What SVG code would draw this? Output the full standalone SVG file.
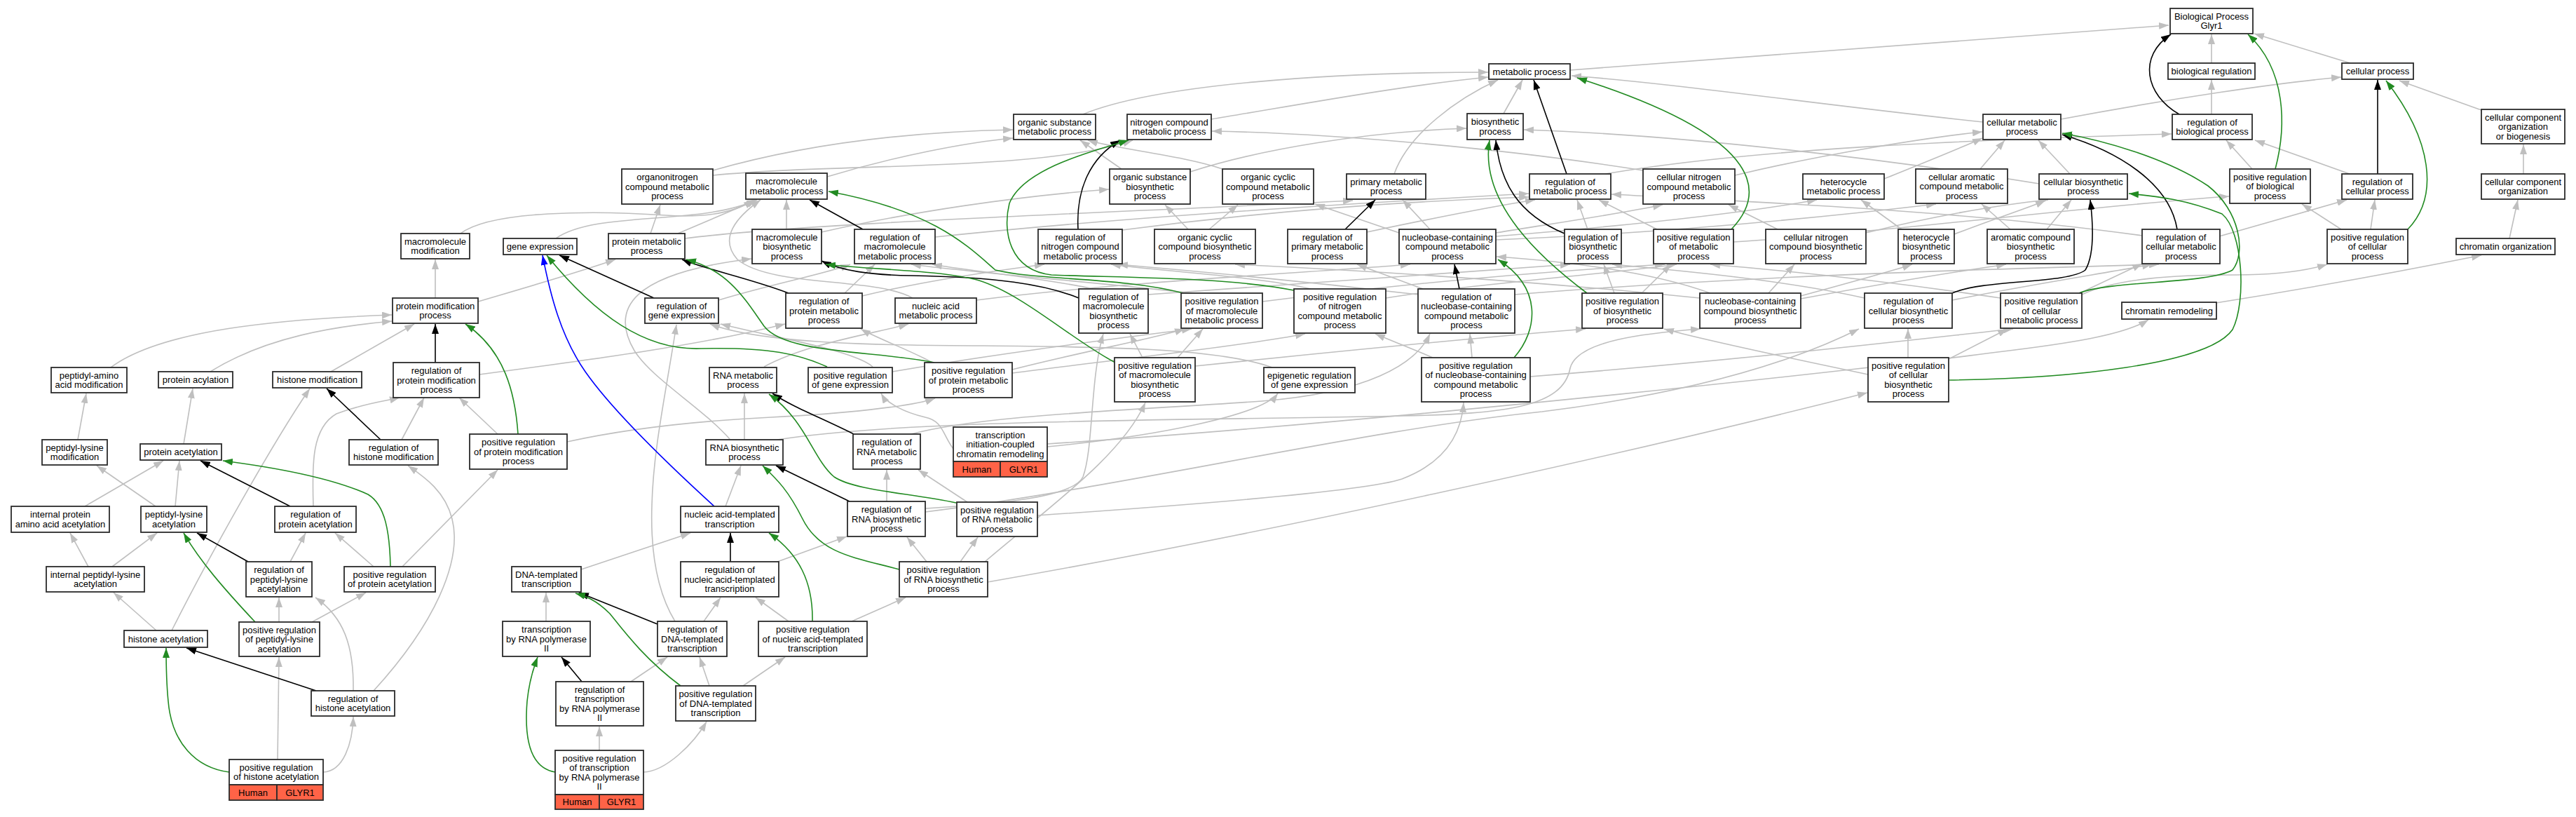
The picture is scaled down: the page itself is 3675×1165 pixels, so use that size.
<svg xmlns="http://www.w3.org/2000/svg" width="3675" height="1165" viewBox="0 0 3675 1165">
<style>
.n rect{fill:#fff;stroke:#2b2b2b;stroke-width:1.8}
.n rect.red{fill:#ff6347}
.n text{font-family:"Liberation Sans",Arial,sans-serif;font-size:13px;text-anchor:middle;fill:#000}
#edges path{fill:none;stroke-width:1.6}
#edges .g{stroke:#bfbfbf;marker-end:url(#ag)}
#edges .k{stroke:#000;marker-end:url(#ak)}
#edges .v{stroke:#228b22;marker-end:url(#av)}
#edges .b{stroke:#0000ff;marker-end:url(#ab)}
</style>
<defs>
<marker id="ag" viewBox="0 0 14 10" refX="14" refY="5" markerWidth="14" markerHeight="10" markerUnits="userSpaceOnUse" orient="auto"><path d="M0,0 L14,5 L0,10 z" fill="#bfbfbf"/></marker>
<marker id="ak" viewBox="0 0 14 10" refX="14" refY="5" markerWidth="14" markerHeight="10" markerUnits="userSpaceOnUse" orient="auto"><path d="M0,0 L14,5 L0,10 z" fill="#000"/></marker>
<marker id="av" viewBox="0 0 14 10" refX="14" refY="5" markerWidth="14" markerHeight="10" markerUnits="userSpaceOnUse" orient="auto"><path d="M0,0 L14,5 L0,10 z" fill="#228b22"/></marker>
<marker id="ab" viewBox="0 0 14 10" refX="14" refY="5" markerWidth="14" markerHeight="10" markerUnits="userSpaceOnUse" orient="auto"><path d="M0,0 L14,5 L0,10 z" fill="#0000ff"/></marker>
</defs>
<rect x="0" y="0" width="3675" height="1165" fill="#fff"/>
<g id="edges">
<path class="g" d="M2240,100 C2600,75 2900,48 3094,36"/>
<path class="g" d="M3155,90 L3155,49"/>
<path class="g" d="M3353,90 L3216,48"/>
<path class="g" d="M3155,163 L3155,114"/>
<path class="g" d="M3540,157 L3423,115"/>
<path class="g" d="M2940,170 C3100,140 3250,118 3340,110"/>
<path class="g" d="M2829,174 C2600,150 2400,120 2242,108"/>
<path class="g" d="M1545,163 C1650,120 1900,103 2123,103"/>
<path class="g" d="M1728,170 C1850,150 2000,122 2123,110"/>
<path class="g" d="M1989,248 C2010,190 2080,140 2137,114"/>
<path class="g" d="M2145,162 L2172,114"/>
<path class="g" d="M1698,245 C1800,212 1950,188 2092,183"/>
<path class="g" d="M2909,262 C2700,228 2400,192 2174,185"/>
<path class="g" d="M1600,241 L1541,200"/>
<path class="g" d="M1744,241 C1690,222 1590,212 1552,200"/>
<path class="g" d="M1017,243 C1150,205 1300,188 1445,185"/>
<path class="g" d="M1180,252 C1280,222 1380,203 1445,197"/>
<path class="g" d="M1017,250 C1200,232 1480,245 1616,200"/>
<path class="g" d="M2344,243 C2150,212 1900,190 1729,187"/>
<path class="g" d="M1725,327 L1766,292"/>
<path class="g" d="M1695,327 L1662,292"/>
<path class="g" d="M2040,327 L2001,285"/>
<path class="g" d="M977,340 C1150,318 1550,305 1930,286"/>
<path class="g" d="M1172,331 C1300,302 1450,280 1582,270"/>
<path class="g" d="M1996,332 L1876,291"/>
<path class="g" d="M2134,332 C2220,318 2310,305 2372,292"/>
<path class="g" d="M2134,337 C2320,322 2480,305 2592,285"/>
<path class="g" d="M2134,342 C2380,332 2600,310 2762,291"/>
<path class="g" d="M2475,250 C2600,220 2750,196 2828,188"/>
<path class="g" d="M2688,255 C2750,230 2800,210 2828,197"/>
<path class="g" d="M2825,241 L2860,200"/>
<path class="g" d="M2953,248 L2908,200"/>
<path class="g" d="M2290,248 C2500,212 2800,200 3098,191"/>
<path class="g" d="M3213,241 L3176,200"/>
<path class="g" d="M3352,248 L3217,200"/>
<path class="g" d="M3600,248 L3600,206"/>
<path class="g" d="M657,333 C700,300 850,300 950,307 C1010,311 1050,302 1075,285"/>
<path class="g" d="M793,340 C850,300 1000,322 1079,285"/>
<path class="g" d="M928,333 L942,292"/>
<path class="g" d="M967,333 L1080,285"/>
<path class="g" d="M1122,326 L1122,285"/>
<path class="g" d="M1334,338 C1600,310 1900,292 2181,276"/>
<path class="g" d="M1601,328 C1800,302 2000,287 2181,281"/>
<path class="g" d="M1950,331 C2050,310 2130,294 2190,285"/>
<path class="g" d="M2265,327 L2250,285"/>
<path class="g" d="M2364,327 L2281,285"/>
<path class="g" d="M2473,345 C2700,330 3000,292 3180,280"/>
<path class="g" d="M2536,327 L2466,292"/>
<path class="g" d="M2662,332 C2750,310 2850,292 2922,285"/>
<path class="g" d="M2713,327 L2655,285"/>
<path class="g" d="M2788,334 C2850,310 2895,296 2918,286"/>
<path class="g" d="M2868,327 L2827,291"/>
<path class="g" d="M2920,327 L2955,285"/>
<path class="g" d="M3056,336 C2800,300 2500,288 2299,277"/>
<path class="g" d="M3166,337 L3348,285"/>
<path class="g" d="M3382,327 L3388,285"/>
<path class="g" d="M3340,327 L3284,291"/>
<path class="g" d="M3580,340 L3592,285"/>
<path class="g" d="M621,425 L621,370"/>
<path class="g" d="M682,430 C750,410 820,390 878,370"/>
<path class="g" d="M1025,428 C1100,405 1180,390 1213,377"/>
<path class="g" d="M1205,418 L1248,377"/>
<path class="g" d="M1230,422 C1320,400 1420,386 1490,377"/>
<path class="g" d="M1393,428 C1600,402 1850,390 2012,377"/>
<path class="g" d="M1302,425 C1250,395 1100,410 1052,370 C1025,340 1050,310 1085,285"/>
<path class="g" d="M1560,412 C1480,395 1380,386 1330,377"/>
<path class="g" d="M1638,420 C1900,400 2100,386 2240,377"/>
<path class="g" d="M1700,418 C1560,402 1400,390 1300,377"/>
<path class="g" d="M1801,430 C2000,405 2200,387 2375,377"/>
<path class="g" d="M1870,412 C1800,395 1650,386 1585,377"/>
<path class="g" d="M1977,425 C2100,405 2300,390 2392,377"/>
<path class="g" d="M2023,420 C1850,400 1700,386 1595,377"/>
<path class="g" d="M2030,412 L1936,377"/>
<path class="g" d="M2161,420 C2500,392 2900,382 3080,377"/>
<path class="g" d="M2303,418 L2288,377"/>
<path class="g" d="M2342,418 L2384,377"/>
<path class="g" d="M2440,418 C2350,385 2220,372 2135,366"/>
<path class="g" d="M2523,418 L2560,377"/>
<path class="g" d="M2569,422 C2650,400 2700,386 2728,377"/>
<path class="g" d="M2569,426 C2700,402 2800,386 2862,377"/>
<path class="g" d="M2425,425 C2200,402 1950,386 1762,377"/>
<path class="g" d="M2660,425 C2550,400 2400,386 2300,377"/>
<path class="g" d="M2785,428 C2900,405 3000,390 3070,377"/>
<path class="g" d="M2967,418 L3056,376"/>
<path class="g" d="M2854,425 C2700,402 2550,386 2440,377"/>
<path class="g" d="M2970,420 C3020,397 3100,392 3190,392 C3250,392 3290,386 3320,377"/>
<path class="g" d="M3161,432 C3300,410 3450,382 3540,364"/>
<path class="g" d="M158,524 C230,470 400,455 559,449"/>
<path class="g" d="M300,530 C380,480 480,465 559,458"/>
<path class="g" d="M472,530 L591,462"/>
<path class="g" d="M684,534 C850,512 1000,492 1120,462"/>
<path class="g" d="M1090,523 C1150,490 1250,475 1296,462"/>
<path class="g" d="M1245,523 C1220,500 1100,480 1028,462"/>
<path class="g" d="M1273,530 C1450,500 1600,482 1700,469"/>
<path class="g" d="M1330,517 C1300,500 1250,482 1228,469"/>
<path class="g" d="M1444,527 C1550,500 1650,482 1690,469"/>
<path class="g" d="M1444,532 C1600,512 1780,492 1862,476"/>
<path class="g" d="M1630,510 L1612,476"/>
<path class="g" d="M1680,510 L1716,469"/>
<path class="g" d="M1705,522 C1900,502 2100,482 2262,469"/>
<path class="g" d="M1815,524 C1720,490 1500,495 1300,492 C1150,490 1060,480 1013,462"/>
<path class="g" d="M2100,510 L2097,476"/>
<path class="g" d="M2044,510 C2010,495 1985,486 1962,476"/>
<path class="g" d="M2183,537 C2500,512 2750,482 2872,469"/>
<path class="g" d="M2722,510 L2722,469"/>
<path class="g" d="M2665,534 C2550,510 2420,482 2374,469"/>
<path class="g" d="M2780,512 L2864,469"/>
<path class="g" d="M111,627 L123,561"/>
<path class="g" d="M262,633 L275,554"/>
<path class="g" d="M573,627 L605,567"/>
<path class="g" d="M710,619 L655,567"/>
<path class="g" d="M809,630 C900,610 1000,600 1100,595 C1200,590 1300,580 1334,568"/>
<path class="g" d="M1062,627 L1062,561"/>
<path class="g" d="M1041,626 C1000,580 930,540 905,500 C870,440 900,390 1072,369"/>
<path class="g" d="M1109,627 C1300,597 1700,600 2000,593 C2150,590 2230,580 2240,525 C2250,485 2350,475 2426,469"/>
<path class="g" d="M1300,619 C1400,592 1600,586 1800,572 C1950,560 2020,520 2040,476"/>
<path class="g" d="M1494,633 C2000,600 2700,522 2850,502 C2950,490 3030,478 3065,456"/>
<path class="g" d="M1494,637 C1650,622 1800,592 1823,561"/>
<path class="g" d="M1360,640 C1345,620 1345,600 1320,595 C1290,588 1265,575 1257,561"/>
<path class="g" d="M121,722 L233,657"/>
<path class="g" d="M222,722 L138,664"/>
<path class="g" d="M250,722 L256,657"/>
<path class="g" d="M447,722 C445,660 445,610 480,590 C520,575 550,572 570,567"/>
<path class="g" d="M1035,722 L1057,664"/>
<path class="g" d="M1265,715 L1265,670"/>
<path class="g" d="M1320,725 C1400,720 1530,712 1545,680 C1560,640 1555,540 1574,476"/>
<path class="g" d="M1320,730 C1600,695 1950,612 2200,587 C2400,562 2550,520 2652,469"/>
<path class="g" d="M1380,716 L1310,670"/>
<path class="g" d="M1480,735 C1700,720 1950,700 2000,683 C2060,660 2085,620 2088,574"/>
<path class="g" d="M126,808 L100,760"/>
<path class="g" d="M160,808 L224,760"/>
<path class="g" d="M414,801 L436,760"/>
<path class="g" d="M533,808 L478,760"/>
<path class="g" d="M574,808 L710,670"/>
<path class="g" d="M829,812 L985,760"/>
<path class="g" d="M1109,801 L1208,765"/>
<path class="g" d="M1322,801 L1294,766"/>
<path class="g" d="M1370,801 L1395,766"/>
<path class="g" d="M1405,801 C1500,720 1600,650 1634,574"/>
<path class="g" d="M1409,830 C1800,762 2300,652 2664,560"/>
<path class="g" d="M245,899 C300,790 390,630 442,554"/>
<path class="g" d="M223,899 L162,845"/>
<path class="g" d="M398,887 L398,852"/>
<path class="g" d="M445,887 L522,845"/>
<path class="g" d="M779,886 L779,845"/>
<path class="g" d="M1004,886 L1028,852"/>
<path class="g" d="M963,886 C935,840 928,780 930,720 C932,640 950,560 965,463"/>
<path class="g" d="M1125,886 L1078,852"/>
<path class="g" d="M1215,886 L1292,852"/>
<path class="g" d="M504,985 C505,920 490,880 450,852"/>
<path class="g" d="M533,985 C620,890 660,800 645,740 C635,700 605,680 582,664"/>
<path class="g" d="M900,972 L952,937"/>
<path class="g" d="M1012,978 L998,937"/>
<path class="g" d="M1060,978 L1120,937"/>
<path class="g" d="M396,1083 L398,937"/>
<path class="g" d="M461,1101 C490,1100 503,1060 504,1022"/>
<path class="g" d="M855,1070 L855,1036"/>
<path class="g" d="M918,1101 C950,1100 990,1060 1008,1029"/>
<path class="k" d="M3109,163 C3060,135 3050,80 3097,49"/>
<path class="k" d="M2235,248 L2188,114"/>
<path class="k" d="M2232,333 C2165,305 2140,260 2134,200"/>
<path class="k" d="M1538,327 C1535,270 1555,225 1598,200"/>
<path class="k" d="M1919,327 L1962,285"/>
<path class="k" d="M3392,248 L3392,114"/>
<path class="k" d="M1231,327 L1155,285"/>
<path class="k" d="M3106,327 C3095,260 3020,215 2942,192"/>
<path class="k" d="M933,425 L798,364"/>
<path class="k" d="M1125,418 C1070,397 1010,385 973,370"/>
<path class="k" d="M1539,425 C1490,405 1420,395 1300,393 C1240,392 1200,386 1172,372"/>
<path class="k" d="M2082,412 L2075,377"/>
<path class="k" d="M2785,418 C2830,398 2950,405 2975,385 C2990,360 2985,310 2982,285"/>
<path class="k" d="M621,517 L621,462"/>
<path class="k" d="M543,627 L466,554"/>
<path class="k" d="M1218,619 C1170,595 1130,580 1102,561"/>
<path class="k" d="M414,722 L286,657"/>
<path class="k" d="M1212,715 L1107,664"/>
<path class="k" d="M354,801 L281,760"/>
<path class="k" d="M1042,801 L1042,760"/>
<path class="k" d="M938,890 L826,845"/>
<path class="k" d="M451,985 L266,924"/>
<path class="k" d="M830,972 L801,937"/>
<path class="v" d="M3246,241 C3262,180 3262,100 3207,49"/>
<path class="v" d="M2470,327 C2515,280 2530,200 2250,111"/>
<path class="v" d="M2264,418 C2200,370 2110,290 2125,200"/>
<path class="v" d="M1846,414 C1750,395 1600,396 1500,392 C1440,385 1430,330 1440,290 C1460,240 1560,215 1610,200"/>
<path class="v" d="M3435,327 C3480,280 3470,200 3404,115"/>
<path class="v" d="M1688,418 C1600,395 1480,400 1420,385 C1380,350 1330,300 1182,273"/>
<path class="v" d="M2966,418 C3010,400 3150,405 3185,385 C3205,360 3195,300 3150,265 C3090,225 3000,200 2942,190"/>
<path class="v" d="M2780,542 C2950,540 3150,520 3185,470 C3205,430 3200,330 3170,305 C3120,285 3080,280 3037,276"/>
<path class="v" d="M1180,523 C1140,505 1100,495 1000,497 C920,500 850,450 780,364"/>
<path class="v" d="M1333,517 C1250,500 1120,505 1090,465 C1065,430 1040,385 979,370"/>
<path class="v" d="M1591,517 C1530,485 1460,420 1397,400 C1340,385 1250,385 1178,377"/>
<path class="v" d="M2160,510 C2195,470 2200,410 2137,370"/>
<path class="v" d="M739,619 C735,560 720,500 664,462"/>
<path class="v" d="M1364,717 C1300,703 1220,700 1190,680 C1160,655 1150,600 1097,562"/>
<path class="v" d="M557,808 C556,760 550,720 525,705 C470,680 380,665 318,657"/>
<path class="v" d="M1283,812 C1220,795 1170,790 1145,740 C1125,700 1110,685 1088,664"/>
<path class="v" d="M364,887 C320,840 285,800 262,760"/>
<path class="v" d="M1159,886 C1160,830 1140,790 1097,760"/>
<path class="v" d="M971,978 C920,940 890,900 870,875 C850,855 835,850 821,846"/>
<path class="v" d="M327,1101 C280,1095 245,1060 240,1000 C237,970 237,945 237,924"/>
<path class="v" d="M792,1101 C755,1095 748,1050 752,1000 C755,970 762,950 767,937"/>
<path class="b" d="M1019,722 C940,650 870,580 835,530 C800,480 785,420 774,364"/>
</g>
<g id="nodes">
<g id="n-bp" class="n"><rect x="3096" y="12" width="118" height="36"/><text><tspan x="3155" y="27.8">Biological Process</tspan><tspan x="3155" y="41.3">Glyr1</tspan></text></g>
<g id="n-met" class="n"><rect x="2124" y="91" width="116" height="22"/><text><tspan x="2182" y="106.5">metabolic process</tspan></text></g>
<g id="n-bioreg" class="n"><rect x="3093" y="90" width="124" height="23"/><text><tspan x="3155" y="106">biological regulation</tspan></text></g>
<g id="n-cellp" class="n"><rect x="3341" y="90" width="102" height="23"/><text><tspan x="3392" y="106">cellular process</tspan></text></g>
<g id="n-osm" class="n"><rect x="1446" y="163" width="117" height="36"/><text><tspan x="1504.5" y="178.8">organic substance</tspan><tspan x="1504.5" y="192.3">metabolic process</tspan></text></g>
<g id="n-ncm" class="n"><rect x="1608" y="163" width="120" height="36"/><text><tspan x="1668" y="178.8">nitrogen compound</tspan><tspan x="1668" y="192.3">metabolic process</tspan></text></g>
<g id="n-bios" class="n"><rect x="2093" y="162" width="80" height="37"/><text><tspan x="2133" y="178.3">biosynthetic</tspan><tspan x="2133" y="191.8">process</tspan></text></g>
<g id="n-cmp" class="n"><rect x="2829" y="163" width="111" height="36"/><text><tspan x="2884.5" y="178.8">cellular metabolic</tspan><tspan x="2884.5" y="192.3">process</tspan></text></g>
<g id="n-rbp" class="n"><rect x="3099" y="163" width="114" height="36"/><text><tspan x="3156" y="178.8">regulation of</tspan><tspan x="3156" y="192.3">biological process</tspan></text></g>
<g id="n-ccob" class="n"><rect x="3540" y="156" width="119" height="49"/><text><tspan x="3599.5" y="171.5">cellular component</tspan><tspan x="3599.5" y="185">organization</tspan><tspan x="3599.5" y="198.5">or biogenesis</tspan></text></g>
<g id="n-onm" class="n"><rect x="887" y="241" width="130" height="50"/><text><tspan x="952" y="257">organonitrogen</tspan><tspan x="952" y="270.5">compound metabolic</tspan><tspan x="952" y="284">process</tspan></text></g>
<g id="n-mmp" class="n"><rect x="1064" y="247" width="116" height="37"/><text><tspan x="1122" y="263.3">macromolecule</tspan><tspan x="1122" y="276.8">metabolic process</tspan></text></g>
<g id="n-osb" class="n"><rect x="1583" y="241" width="115" height="50"/><text><tspan x="1640.5" y="257">organic substance</tspan><tspan x="1640.5" y="270.5">biosynthetic</tspan><tspan x="1640.5" y="284">process</tspan></text></g>
<g id="n-occm" class="n"><rect x="1744" y="241" width="130" height="50"/><text><tspan x="1809" y="257">organic cyclic</tspan><tspan x="1809" y="270.5">compound metabolic</tspan><tspan x="1809" y="284">process</tspan></text></g>
<g id="n-pmp" class="n"><rect x="1921" y="248" width="113" height="36"/><text><tspan x="1977.5" y="263.8">primary metabolic</tspan><tspan x="1977.5" y="277.3">process</tspan></text></g>
<g id="n-rmp" class="n"><rect x="2182" y="248" width="116" height="36"/><text><tspan x="2240" y="263.8">regulation of</tspan><tspan x="2240" y="277.3">metabolic process</tspan></text></g>
<g id="n-cncm" class="n"><rect x="2344" y="241" width="131" height="50"/><text><tspan x="2409.5" y="257">cellular nitrogen</tspan><tspan x="2409.5" y="270.5">compound metabolic</tspan><tspan x="2409.5" y="284">process</tspan></text></g>
<g id="n-hcm" class="n"><rect x="2572" y="248" width="116" height="36"/><text><tspan x="2630" y="263.8">heterocycle</tspan><tspan x="2630" y="277.3">metabolic process</tspan></text></g>
<g id="n-cacm" class="n"><rect x="2733" y="241" width="131" height="49"/><text><tspan x="2798.5" y="256.5">cellular aromatic</tspan><tspan x="2798.5" y="270">compound metabolic</tspan><tspan x="2798.5" y="283.5">process</tspan></text></g>
<g id="n-cbp" class="n"><rect x="2909" y="248" width="126" height="36"/><text><tspan x="2972" y="263.8">cellular biosynthetic</tspan><tspan x="2972" y="277.3">process</tspan></text></g>
<g id="n-prbp" class="n"><rect x="3181" y="241" width="115" height="49"/><text><tspan x="3238.5" y="256.5">positive regulation</tspan><tspan x="3238.5" y="270">of biological</tspan><tspan x="3238.5" y="283.5">process</tspan></text></g>
<g id="n-rcp" class="n"><rect x="3341" y="248" width="101" height="36"/><text><tspan x="3391.5" y="263.8">regulation of</tspan><tspan x="3391.5" y="277.3">cellular process</tspan></text></g>
<g id="n-cco" class="n"><rect x="3540" y="248" width="119" height="36"/><text><tspan x="3599.5" y="263.8">cellular component</tspan><tspan x="3599.5" y="277.3">organization</tspan></text></g>
<g id="n-mmod" class="n"><rect x="572" y="333" width="98" height="36"/><text><tspan x="621" y="348.8">macromolecule</tspan><tspan x="621" y="362.3">modification</tspan></text></g>
<g id="n-gex" class="n"><rect x="718" y="340" width="105" height="23"/><text><tspan x="770.5" y="356">gene expression</tspan></text></g>
<g id="n-prm" class="n"><rect x="868" y="333" width="109" height="36"/><text><tspan x="922.5" y="348.8">protein metabolic</tspan><tspan x="922.5" y="362.3">process</tspan></text></g>
<g id="n-mbp" class="n"><rect x="1073" y="327" width="99" height="49"/><text><tspan x="1122.5" y="342.5">macromolecule</tspan><tspan x="1122.5" y="356">biosynthetic</tspan><tspan x="1122.5" y="369.5">process</tspan></text></g>
<g id="n-rmmp" class="n"><rect x="1219" y="327" width="115" height="49"/><text><tspan x="1276.5" y="342.5">regulation of</tspan><tspan x="1276.5" y="356">macromolecule</tspan><tspan x="1276.5" y="369.5">metabolic process</tspan></text></g>
<g id="n-rncm" class="n"><rect x="1481" y="327" width="120" height="49"/><text><tspan x="1541" y="342.5">regulation of</tspan><tspan x="1541" y="356">nitrogen compound</tspan><tspan x="1541" y="369.5">metabolic process</tspan></text></g>
<g id="n-occb" class="n"><rect x="1647" y="327" width="144" height="49"/><text><tspan x="1719" y="342.5">organic cyclic</tspan><tspan x="1719" y="356">compound biosynthetic</tspan><tspan x="1719" y="369.5">process</tspan></text></g>
<g id="n-rpmp" class="n"><rect x="1837" y="327" width="113" height="49"/><text><tspan x="1893.5" y="342.5">regulation of</tspan><tspan x="1893.5" y="356">primary metabolic</tspan><tspan x="1893.5" y="369.5">process</tspan></text></g>
<g id="n-nccm" class="n"><rect x="1996" y="327" width="138" height="49"/><text><tspan x="2065" y="342.5">nucleobase-containing</tspan><tspan x="2065" y="356">compound metabolic</tspan><tspan x="2065" y="369.5">process</tspan></text></g>
<g id="n-rbsp" class="n"><rect x="2232" y="327" width="81" height="49"/><text><tspan x="2272.5" y="342.5">regulation of</tspan><tspan x="2272.5" y="356">biosynthetic</tspan><tspan x="2272.5" y="369.5">process</tspan></text></g>
<g id="n-prmp" class="n"><rect x="2359" y="327" width="114" height="49"/><text><tspan x="2416" y="342.5">positive regulation</tspan><tspan x="2416" y="356">of metabolic</tspan><tspan x="2416" y="369.5">process</tspan></text></g>
<g id="n-cncb" class="n"><rect x="2519" y="327" width="143" height="49"/><text><tspan x="2590.5" y="342.5">cellular nitrogen</tspan><tspan x="2590.5" y="356">compound biosynthetic</tspan><tspan x="2590.5" y="369.5">process</tspan></text></g>
<g id="n-hcb" class="n"><rect x="2708" y="327" width="80" height="49"/><text><tspan x="2748" y="342.5">heterocycle</tspan><tspan x="2748" y="356">biosynthetic</tspan><tspan x="2748" y="369.5">process</tspan></text></g>
<g id="n-acb" class="n"><rect x="2835" y="327" width="124" height="49"/><text><tspan x="2897" y="342.5">aromatic compound</tspan><tspan x="2897" y="356">biosynthetic</tspan><tspan x="2897" y="369.5">process</tspan></text></g>
<g id="n-rcmp" class="n"><rect x="3056" y="327" width="111" height="49"/><text><tspan x="3111.5" y="342.5">regulation of</tspan><tspan x="3111.5" y="356">cellular metabolic</tspan><tspan x="3111.5" y="369.5">process</tspan></text></g>
<g id="n-prcp" class="n"><rect x="3320" y="327" width="115" height="49"/><text><tspan x="3377.5" y="342.5">positive regulation</tspan><tspan x="3377.5" y="356">of cellular</tspan><tspan x="3377.5" y="369.5">process</tspan></text></g>
<g id="n-chro" class="n"><rect x="3504" y="340" width="141" height="23"/><text><tspan x="3574.5" y="356">chromatin organization</tspan></text></g>
<g id="n-pmod" class="n"><rect x="560" y="425" width="122" height="36"/><text><tspan x="621" y="440.8">protein modification</tspan><tspan x="621" y="454.3">process</tspan></text></g>
<g id="n-rgex" class="n"><rect x="920" y="425" width="105" height="36"/><text><tspan x="972.5" y="440.8">regulation of</tspan><tspan x="972.5" y="454.3">gene expression</tspan></text></g>
<g id="n-rprm" class="n"><rect x="1121" y="418" width="109" height="50"/><text><tspan x="1175.5" y="434">regulation of</tspan><tspan x="1175.5" y="447.5">protein metabolic</tspan><tspan x="1175.5" y="461">process</tspan></text></g>
<g id="n-nam" class="n"><rect x="1277" y="425" width="116" height="36"/><text><tspan x="1335" y="440.8">nucleic acid</tspan><tspan x="1335" y="454.3">metabolic process</tspan></text></g>
<g id="n-rmbp" class="n"><rect x="1539" y="412" width="99" height="63"/><text><tspan x="1588.5" y="427.8">regulation of</tspan><tspan x="1588.5" y="441.3">macromolecule</tspan><tspan x="1588.5" y="454.8">biosynthetic</tspan><tspan x="1588.5" y="468.3">process</tspan></text></g>
<g id="n-prmmp" class="n"><rect x="1685" y="418" width="116" height="50"/><text><tspan x="1743" y="434">positive regulation</tspan><tspan x="1743" y="447.5">of macromolecule</tspan><tspan x="1743" y="461">metabolic process</tspan></text></g>
<g id="n-prncm" class="n"><rect x="1846" y="412" width="131" height="63"/><text><tspan x="1911.5" y="427.8">positive regulation</tspan><tspan x="1911.5" y="441.3">of nitrogen</tspan><tspan x="1911.5" y="454.8">compound metabolic</tspan><tspan x="1911.5" y="468.3">process</tspan></text></g>
<g id="n-rnccm" class="n"><rect x="2023" y="412" width="138" height="63"/><text><tspan x="2092" y="427.8">regulation of</tspan><tspan x="2092" y="441.3">nucleobase-containing</tspan><tspan x="2092" y="454.8">compound metabolic</tspan><tspan x="2092" y="468.3">process</tspan></text></g>
<g id="n-prbsp" class="n"><rect x="2257" y="418" width="115" height="50"/><text><tspan x="2314.5" y="434">positive regulation</tspan><tspan x="2314.5" y="447.5">of biosynthetic</tspan><tspan x="2314.5" y="461">process</tspan></text></g>
<g id="n-nccb" class="n"><rect x="2425" y="418" width="144" height="50"/><text><tspan x="2497" y="434">nucleobase-containing</tspan><tspan x="2497" y="447.5">compound biosynthetic</tspan><tspan x="2497" y="461">process</tspan></text></g>
<g id="n-rcbp" class="n"><rect x="2660" y="418" width="125" height="50"/><text><tspan x="2722.5" y="434">regulation of</tspan><tspan x="2722.5" y="447.5">cellular biosynthetic</tspan><tspan x="2722.5" y="461">process</tspan></text></g>
<g id="n-prcmp" class="n"><rect x="2854" y="418" width="116" height="50"/><text><tspan x="2912" y="434">positive regulation</tspan><tspan x="2912" y="447.5">of cellular</tspan><tspan x="2912" y="461">metabolic process</tspan></text></g>
<g id="n-chrem" class="n"><rect x="3027" y="431" width="135" height="24"/><text><tspan x="3094.5" y="447.5">chromatin remodeling</tspan></text></g>
<g id="n-pamod" class="n"><rect x="73" y="524" width="108" height="36"/><text><tspan x="127" y="539.8">peptidyl-amino</tspan><tspan x="127" y="553.3">acid modification</tspan></text></g>
<g id="n-pacyl" class="n"><rect x="226" y="530" width="106" height="23"/><text><tspan x="279" y="546">protein acylation</tspan></text></g>
<g id="n-hmod" class="n"><rect x="389" y="530" width="127" height="23"/><text><tspan x="452.5" y="546">histone modification</tspan></text></g>
<g id="n-rpmod" class="n"><rect x="561" y="517" width="123" height="50"/><text><tspan x="622.5" y="533">regulation of</tspan><tspan x="622.5" y="546.5">protein modification</tspan><tspan x="622.5" y="560">process</tspan></text></g>
<g id="n-rnam" class="n"><rect x="1012" y="524" width="96" height="36"/><text><tspan x="1060" y="539.8">RNA metabolic</tspan><tspan x="1060" y="553.3">process</tspan></text></g>
<g id="n-prgex" class="n"><rect x="1153" y="524" width="120" height="36"/><text><tspan x="1213" y="539.8">positive regulation</tspan><tspan x="1213" y="553.3">of gene expression</tspan></text></g>
<g id="n-prprm" class="n"><rect x="1319" y="517" width="125" height="50"/><text><tspan x="1381.5" y="533">positive regulation</tspan><tspan x="1381.5" y="546.5">of protein metabolic</tspan><tspan x="1381.5" y="560">process</tspan></text></g>
<g id="n-prmbp" class="n"><rect x="1590" y="510" width="115" height="63"/><text><tspan x="1647.5" y="525.8">positive regulation</tspan><tspan x="1647.5" y="539.3">of macromolecule</tspan><tspan x="1647.5" y="552.8">biosynthetic</tspan><tspan x="1647.5" y="566.3">process</tspan></text></g>
<g id="n-epi" class="n"><rect x="1803" y="524" width="130" height="36"/><text><tspan x="1868" y="539.8">epigenetic regulation</tspan><tspan x="1868" y="553.3">of gene expression</tspan></text></g>
<g id="n-prnccm" class="n"><rect x="2028" y="510" width="155" height="63"/><text><tspan x="2105.5" y="525.8">positive regulation</tspan><tspan x="2105.5" y="539.3">of nucleobase-containing</tspan><tspan x="2105.5" y="552.8">compound metabolic</tspan><tspan x="2105.5" y="566.3">process</tspan></text></g>
<g id="n-prcbp" class="n"><rect x="2665" y="510" width="115" height="63"/><text><tspan x="2722.5" y="525.8">positive regulation</tspan><tspan x="2722.5" y="539.3">of cellular</tspan><tspan x="2722.5" y="552.8">biosynthetic</tspan><tspan x="2722.5" y="566.3">process</tspan></text></g>
<g id="n-plmod" class="n"><rect x="60" y="627" width="93" height="36"/><text><tspan x="106.5" y="642.8">peptidyl-lysine</tspan><tspan x="106.5" y="656.3">modification</tspan></text></g>
<g id="n-pacet" class="n"><rect x="200" y="633" width="116" height="23"/><text><tspan x="258" y="649">protein acetylation</tspan></text></g>
<g id="n-rhmod" class="n"><rect x="498" y="627" width="127" height="36"/><text><tspan x="561.5" y="642.8">regulation of</tspan><tspan x="561.5" y="656.3">histone modification</tspan></text></g>
<g id="n-prpmod" class="n"><rect x="670" y="619" width="139" height="50"/><text><tspan x="739.5" y="635">positive regulation</tspan><tspan x="739.5" y="648.5">of protein modification</tspan><tspan x="739.5" y="662">process</tspan></text></g>
<g id="n-rnab" class="n"><rect x="1007" y="627" width="110" height="36"/><text><tspan x="1062" y="642.8">RNA biosynthetic</tspan><tspan x="1062" y="656.3">process</tspan></text></g>
<g id="n-rrnam" class="n"><rect x="1217" y="619" width="96" height="50"/><text><tspan x="1265" y="635">regulation of</tspan><tspan x="1265" y="648.5">RNA metabolic</tspan><tspan x="1265" y="662">process</tspan></text></g>
<g id="n-ticr" class="n"><rect x="1360" y="609" width="134" height="49"/><rect class="red" x="1360" y="658" width="67" height="22"/><rect class="red" x="1427" y="658" width="67" height="22"/><text><tspan x="1427" y="624.5">transcription</tspan><tspan x="1427" y="638">initiation-coupled</tspan><tspan x="1427" y="651.5">chromatin remodeling</tspan></text><text><tspan x="1393.5" y="673.5">Human</tspan><tspan x="1460.5" y="673.5">GLYR1</tspan></text></g>
<g id="n-ipaa" class="n"><rect x="16" y="722" width="140" height="37"/><text><tspan x="86" y="738.3">internal protein</tspan><tspan x="86" y="751.8">amino acid acetylation</tspan></text></g>
<g id="n-placet" class="n"><rect x="201" y="722" width="94" height="37"/><text><tspan x="248" y="738.3">peptidyl-lysine</tspan><tspan x="248" y="751.8">acetylation</tspan></text></g>
<g id="n-rpacet" class="n"><rect x="392" y="722" width="116" height="37"/><text><tspan x="450" y="738.3">regulation of</tspan><tspan x="450" y="751.8">protein acetylation</tspan></text></g>
<g id="n-natt" class="n"><rect x="971" y="722" width="140" height="37"/><text><tspan x="1041" y="738.3">nucleic acid-templated</tspan><tspan x="1041" y="751.8">transcription</tspan></text></g>
<g id="n-rrnab" class="n"><rect x="1209" y="715" width="111" height="50"/><text><tspan x="1264.5" y="731">regulation of</tspan><tspan x="1264.5" y="744.5">RNA biosynthetic</tspan><tspan x="1264.5" y="758">process</tspan></text></g>
<g id="n-prrnam" class="n"><rect x="1365" y="716" width="115" height="49"/><text><tspan x="1422.5" y="731.5">positive regulation</tspan><tspan x="1422.5" y="745">of RNA metabolic</tspan><tspan x="1422.5" y="758.5">process</tspan></text></g>
<g id="n-ipla" class="n"><rect x="66" y="808" width="140" height="36"/><text><tspan x="136" y="823.8">internal peptidyl-lysine</tspan><tspan x="136" y="837.3">acetylation</tspan></text></g>
<g id="n-rplacet" class="n"><rect x="351" y="801" width="94" height="50"/><text><tspan x="398" y="817">regulation of</tspan><tspan x="398" y="830.5">peptidyl-lysine</tspan><tspan x="398" y="844">acetylation</tspan></text></g>
<g id="n-prpacet" class="n"><rect x="491" y="808" width="130" height="36"/><text><tspan x="556" y="823.8">positive regulation</tspan><tspan x="556" y="837.3">of protein acetylation</tspan></text></g>
<g id="n-dtt" class="n"><rect x="730" y="808" width="99" height="36"/><text><tspan x="779.5" y="823.8">DNA-templated</tspan><tspan x="779.5" y="837.3">transcription</tspan></text></g>
<g id="n-rnatt" class="n"><rect x="971" y="801" width="140" height="50"/><text><tspan x="1041" y="817">regulation of</tspan><tspan x="1041" y="830.5">nucleic acid-templated</tspan><tspan x="1041" y="844">transcription</tspan></text></g>
<g id="n-prrnab" class="n"><rect x="1283" y="801" width="126" height="50"/><text><tspan x="1346" y="817">positive regulation</tspan><tspan x="1346" y="830.5">of RNA biosynthetic</tspan><tspan x="1346" y="844">process</tspan></text></g>
<g id="n-hacet" class="n"><rect x="177" y="899" width="119" height="24"/><text><tspan x="236.5" y="915.5">histone acetylation</tspan></text></g>
<g id="n-prplacet" class="n"><rect x="341" y="887" width="115" height="49"/><text><tspan x="398.5" y="902.5">positive regulation</tspan><tspan x="398.5" y="916">of peptidyl-lysine</tspan><tspan x="398.5" y="929.5">acetylation</tspan></text></g>
<g id="n-trp2" class="n"><rect x="717" y="886" width="125" height="50"/><text><tspan x="779.5" y="902">transcription</tspan><tspan x="779.5" y="915.5">by RNA polymerase</tspan><tspan x="779.5" y="929">II</tspan></text></g>
<g id="n-rdtt" class="n"><rect x="938" y="886" width="99" height="50"/><text><tspan x="987.5" y="902">regulation of</tspan><tspan x="987.5" y="915.5">DNA-templated</tspan><tspan x="987.5" y="929">transcription</tspan></text></g>
<g id="n-prnatt" class="n"><rect x="1082" y="886" width="155" height="50"/><text><tspan x="1159.5" y="902">positive regulation</tspan><tspan x="1159.5" y="915.5">of nucleic acid-templated</tspan><tspan x="1159.5" y="929">transcription</tspan></text></g>
<g id="n-rhacet" class="n"><rect x="444" y="985" width="119" height="36"/><text><tspan x="503.5" y="1000.8">regulation of</tspan><tspan x="503.5" y="1014.3">histone acetylation</tspan></text></g>
<g id="n-rtrp2" class="n"><rect x="793" y="972" width="125" height="63"/><text><tspan x="855.5" y="987.8">regulation of</tspan><tspan x="855.5" y="1001.3">transcription</tspan><tspan x="855.5" y="1014.8">by RNA polymerase</tspan><tspan x="855.5" y="1028.3">II</tspan></text></g>
<g id="n-prdtt" class="n"><rect x="964" y="978" width="114" height="50"/><text><tspan x="1021" y="994">positive regulation</tspan><tspan x="1021" y="1007.5">of DNA-templated</tspan><tspan x="1021" y="1021">transcription</tspan></text></g>
<g id="n-prhacet" class="n"><rect x="327" y="1083" width="134" height="36"/><rect class="red" x="327" y="1119" width="68" height="22"/><rect class="red" x="395" y="1119" width="66" height="22"/><text><tspan x="394" y="1098.8">positive regulation</tspan><tspan x="394" y="1112.3">of histone acetylation</tspan></text><text><tspan x="361" y="1134.5">Human</tspan><tspan x="428" y="1134.5">GLYR1</tspan></text></g>
<g id="n-prtrp2" class="n"><rect x="792" y="1070" width="126" height="63"/><rect class="red" x="792" y="1133" width="63" height="21"/><rect class="red" x="855" y="1133" width="63" height="21"/><text><tspan x="855" y="1085.8">positive regulation</tspan><tspan x="855" y="1099.3">of transcription</tspan><tspan x="855" y="1112.8">by RNA polymerase</tspan><tspan x="855" y="1126.3">II</tspan></text><text><tspan x="823.5" y="1148">Human</tspan><tspan x="886.5" y="1148">GLYR1</tspan></text></g>
</g>
</svg>
